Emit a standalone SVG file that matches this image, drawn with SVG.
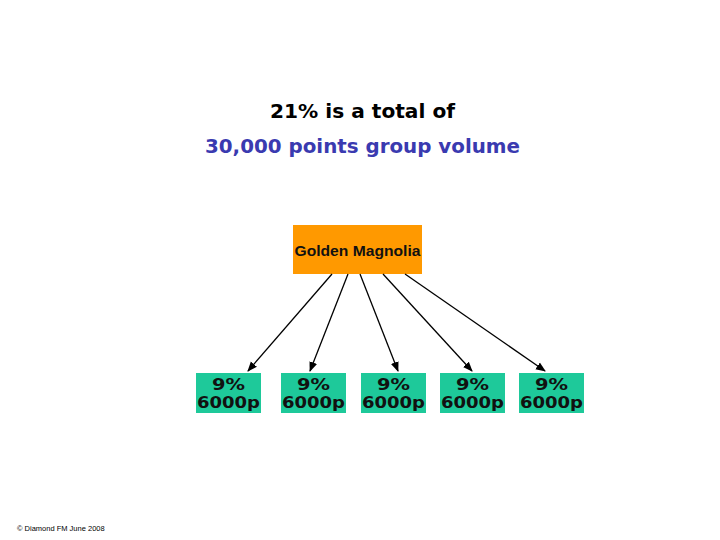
<svg xmlns="http://www.w3.org/2000/svg" width="720" height="540" viewBox="0 0 720 540">
<defs>
<style>
.title{font-family:"DejaVu Sans",Verdana,sans-serif;font-weight:bold;font-size:19px;text-anchor:middle}
.leaf rect{fill:#1ec99a}
.leaf text{font-family:"DejaVu Sans",Verdana,sans-serif;font-weight:bold;font-size:16px;fill:#111;text-anchor:middle}
.conn line{stroke:#000;stroke-width:1.3;marker-end:url(#ah)}
</style>
<marker id="ah" markerWidth="10" markerHeight="10" refX="9" refY="5" orient="auto" markerUnits="userSpaceOnUse">
<path d="M0,1 L10,5 L0,9 Z" fill="#000"/>
</marker>
</defs>
<rect width="720" height="540" fill="#fff"/>
<g id="title">
<text class="title" x="362.5" y="118" fill="#000" textLength="185" lengthAdjust="spacingAndGlyphs">21% is a total of</text>
<text class="title" x="362.5" y="153" fill="#3a3ab0" textLength="315" lengthAdjust="spacingAndGlyphs">30,000 points group volume</text>
</g>
<g id="root">
<rect x="293" y="225" width="129" height="49" fill="#ff9900"/>
<text x="357.5" y="256" font-family="Liberation Sans, Arial, sans-serif" font-size="14" font-weight="bold" fill="#111" text-anchor="middle" textLength="126" lengthAdjust="spacingAndGlyphs">Golden Magnolia</text>
</g>
<g id="connectors" class="conn">
<line x1="332" y1="274" x2="248" y2="371"/>
<line x1="348" y1="274" x2="310" y2="371"/>
<line x1="360" y1="274" x2="398" y2="371"/>
<line x1="383" y1="274" x2="472" y2="371"/>
<line x1="405" y1="274" x2="545" y2="371"/>
</g>
<g id="n1" class="leaf"><rect x="196" y="373" width="65" height="40"/><text x="228.5" y="390" textLength="33" lengthAdjust="spacingAndGlyphs">9%</text><text x="228.5" y="408" textLength="63" lengthAdjust="spacingAndGlyphs">6000p</text></g>
<g id="n2" class="leaf"><rect x="281" y="373" width="65" height="40"/><text x="313.5" y="390" textLength="33" lengthAdjust="spacingAndGlyphs">9%</text><text x="313.5" y="408" textLength="63" lengthAdjust="spacingAndGlyphs">6000p</text></g>
<g id="n3" class="leaf"><rect x="361" y="373" width="65" height="40"/><text x="393.5" y="390" textLength="33" lengthAdjust="spacingAndGlyphs">9%</text><text x="393.5" y="408" textLength="63" lengthAdjust="spacingAndGlyphs">6000p</text></g>
<g id="n4" class="leaf"><rect x="440" y="373" width="65" height="40"/><text x="472.5" y="390" textLength="33" lengthAdjust="spacingAndGlyphs">9%</text><text x="472.5" y="408" textLength="63" lengthAdjust="spacingAndGlyphs">6000p</text></g>
<g id="n5" class="leaf"><rect x="519" y="373" width="65" height="40"/><text x="551.5" y="390" textLength="33" lengthAdjust="spacingAndGlyphs">9%</text><text x="551.5" y="408" textLength="63" lengthAdjust="spacingAndGlyphs">6000p</text></g>
<text x="17" y="531" font-family="Liberation Sans, Arial, sans-serif" font-size="7.5" fill="#000">© Diamond FM June 2008</text>
</svg>
